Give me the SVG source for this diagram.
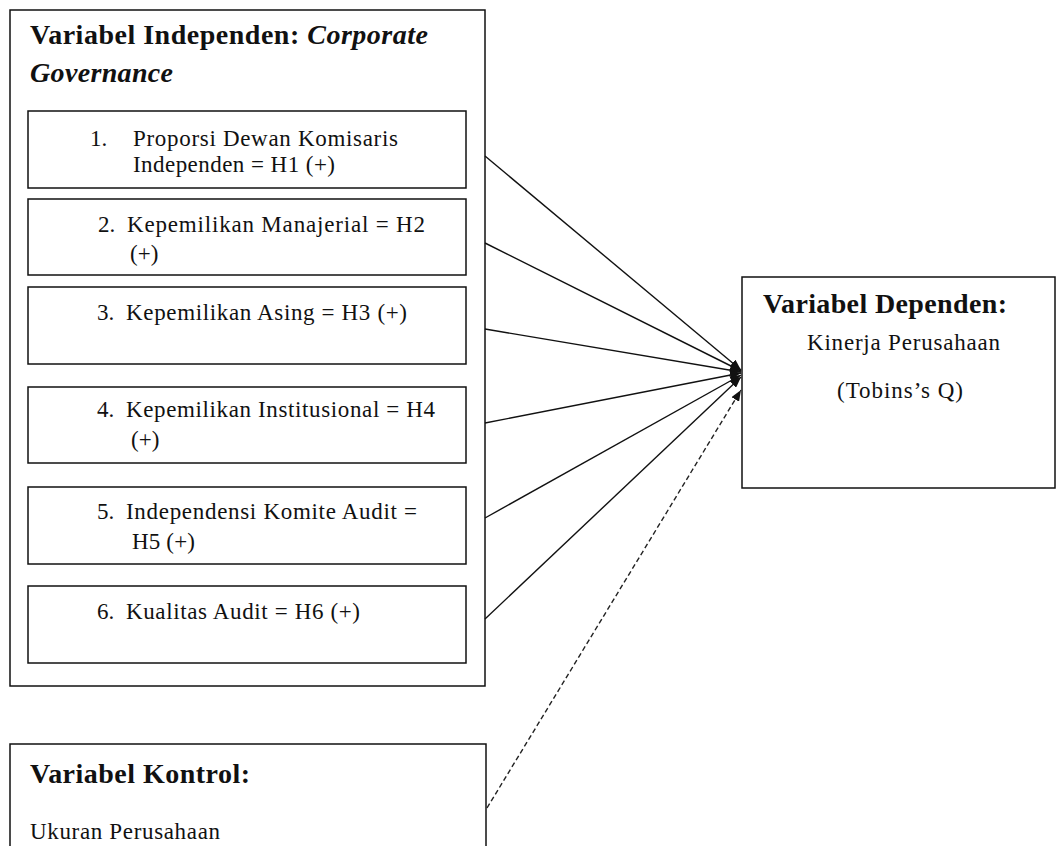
<svg xmlns="http://www.w3.org/2000/svg" width="1057" height="846" viewBox="0 0 1057 846">
<defs>
<style>
.box{fill:#fff;stroke:#111;stroke-width:1.5}
.t{font-family:"Liberation Serif","Times New Roman",serif;font-size:23px;fill:#111}
.h{font-family:"Liberation Serif","Times New Roman",serif;font-size:28px;font-weight:bold;fill:#111}
.c{stroke:#111;stroke-width:1.4;fill:none}
.d{stroke:#222;stroke-width:1.4;fill:none;stroke-dasharray:5 3}
</style>
<marker id="ah" viewBox="0 0 10 8" refX="10" refY="4" markerWidth="11" markerHeight="9" markerUnits="userSpaceOnUse" orient="auto">
<path d="M0,0 L10,4 L0,8 z" fill="#111"/>
</marker>
</defs>
<rect width="1057" height="846" fill="#fff"/>

<g id="independen">
<rect class="box" x="10" y="10" width="475" height="676"/>
<text class="h" x="30" y="44" textLength="398" lengthAdjust="spacing">Variabel Independen: <tspan font-style="italic">Corporate</tspan></text>
<text class="h" x="30" y="82" font-style="italic" textLength="143" lengthAdjust="spacing">Governance</text>
</g>

<g id="h1">
<rect class="box" x="28" y="111" width="438" height="77"/>
<text class="t" x="90" y="146">1.</text>
<text class="t" x="133" y="146" textLength="265" lengthAdjust="spacing">Proporsi Dewan Komisaris</text>
<text class="t" x="133" y="172" textLength="202" lengthAdjust="spacing">Independen = H1 (+)</text>
</g>

<g id="h2">
<rect class="box" x="28" y="199" width="438" height="76"/>
<text class="t" x="98" y="232">2.</text>
<text class="t" x="127" y="232" textLength="298" lengthAdjust="spacing">Kepemilikan Manajerial  = H2</text>
<text class="t" x="130" y="261">(+)</text>
</g>

<g id="h3">
<rect class="box" x="28" y="287" width="438" height="77"/>
<text class="t" x="97" y="320">3.</text>
<text class="t" x="126" y="320" textLength="281" lengthAdjust="spacing">Kepemilikan Asing = H3 (+)</text>
</g>

<g id="h4">
<rect class="box" x="28" y="387" width="438" height="76"/>
<text class="t" x="97" y="417">4.</text>
<text class="t" x="126" y="417" textLength="309" lengthAdjust="spacing">Kepemilikan Institusional = H4</text>
<text class="t" x="131" y="447">(+)</text>
</g>

<g id="h5">
<rect class="box" x="28" y="487" width="438" height="77"/>
<text class="t" x="97" y="519">5.</text>
<text class="t" x="126" y="519" textLength="291" lengthAdjust="spacing">Independensi Komite Audit =</text>
<text class="t" x="132" y="549" textLength="63" lengthAdjust="spacing">H5 (+)</text>
</g>

<g id="h6">
<rect class="box" x="28" y="586" width="438" height="77"/>
<text class="t" x="97" y="619">6.</text>
<text class="t" x="126" y="619" textLength="234" lengthAdjust="spacing">Kualitas Audit = H6 (+)</text>
</g>

<g id="dependen">
<rect class="box" x="742" y="277" width="313" height="211"/>
<text class="h" x="763" y="313" textLength="244" lengthAdjust="spacing">Variabel Dependen:</text>
<text class="t" x="807" y="350" textLength="193" lengthAdjust="spacing">Kinerja Perusahaan</text>
<text class="t" x="837" y="398" textLength="126" lengthAdjust="spacing">(Tobins’s Q)</text>
</g>

<g id="kontrol">
<rect class="box" x="10" y="744" width="476" height="120"/>
<text class="h" x="30" y="783" textLength="220" lengthAdjust="spacing">Variabel Kontrol:</text>
<text class="t" x="30" y="839" textLength="190" lengthAdjust="spacing">Ukuran Perusahaan</text>
</g>

<g id="connectors">
<line class="c" x1="485" y1="156" x2="741" y2="370" marker-end="url(#ah)"/>
<line class="c" x1="485" y1="243" x2="741" y2="371" marker-end="url(#ah)"/>
<line class="c" x1="485" y1="329" x2="741" y2="372" marker-end="url(#ah)"/>
<line class="c" x1="485" y1="423" x2="741" y2="373" marker-end="url(#ah)"/>
<line class="c" x1="485" y1="518" x2="741" y2="375" marker-end="url(#ah)"/>
<line class="c" x1="485" y1="619" x2="741" y2="377" marker-end="url(#ah)"/>
<line class="d" x1="487" y1="808" x2="741" y2="390" marker-end="url(#ah)"/>
</g>
</svg>
